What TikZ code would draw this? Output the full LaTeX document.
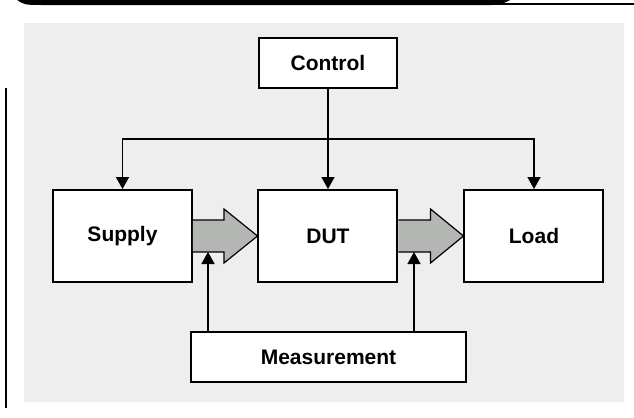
\documentclass[tikz,border=0pt]{standalone}
\usepackage{fontspec}
\setmainfont{Liberation Sans}
\usepackage{tikz}
\usetikzlibrary{calc,arrows.meta}
\usepackage{xcolor}
\definecolor{panelgray}{RGB}{238,238,238}
\definecolor{flowgray}{RGB}{180,182,180}
\newcommand{\boxfont}{\fontsize{10.5}{12}\selectfont\bfseries}

\begin{document}
\begin{tikzpicture}[x=0.5pt,y=-0.5pt,
    every node/.style={draw,fill=white,line width=1pt,inner sep=0pt,font=\boxfont},
    unitbox/.style={minimum width=69.5pt,minimum height=46pt},
    barbox/.style={minimum height=25pt},
    conn/.style={line width=0.8pt,-{Triangle[width=6.5pt,length=6pt]}},
    flow/.style={fill=flowgray,draw=black,line width=0.6pt}]

            \useasboundingbox (0,0) rectangle (634,418);

            % page decoration and grey panel
            \fill[black] (16,-1) .. controls (24,5) .. (45,5) -- (492,5) .. controls (502,5) and (506,2) .. (512,-1) -- cycle;
            \draw[line width=0.75pt] (495,4) -- (634,4);
            \draw[line width=0.6pt] (6,88) -- (6,408);
            \fill[panelgray] (24,23) rectangle (624,402);

            % the blocks
            \node[barbox,minimum width=69pt] (control) at (328,63) {Control};
            \node[unitbox] (supply) at (122.5,236) {Supply};
            \node[unitbox] (dut) at (328,236) {DUT};
            \node[unitbox] (load) at (534,236) {Load};
            \node[barbox,minimum width=137.5pt] (meas) at (328.5,357) {Measurement};

            % Define the control bus as a coordinate
            \coordinate (bus) at (328,139);

            \draw[conn] (bus) -| (supply.north);
            \draw[conn] (bus) -| (load.north);
            \draw[conn] (control.south) -- (dut.north);

            % power flow arrows
            \filldraw[flow] ($(supply.east)+(0,-16)$) -- ++(31,0) -- ++(0,-11) -- (dut.west)
                -- ($(supply.east)+(31,27)$) -- ++(0,-11) -- ($(supply.east)+(0,16)$);
            \filldraw[flow] ($(dut.east)+(0,-16)$) -- ++(32,0) -- ++(0,-11) -- (load.west)
                -- ($(dut.east)+(32,27)$) -- ++(0,-11) -- ($(dut.east)+(0,16)$);

            \coordinate (tap1) at ($(supply.east)+(15,16)$);
            \coordinate (tap2) at ($(dut.east)+(15.5,16)$);

            \draw[conn] (meas.north -| tap1) -- (tap1);
            \draw[conn] (meas.north -| tap2) -- (tap2);

\end{tikzpicture}
\end{document}
